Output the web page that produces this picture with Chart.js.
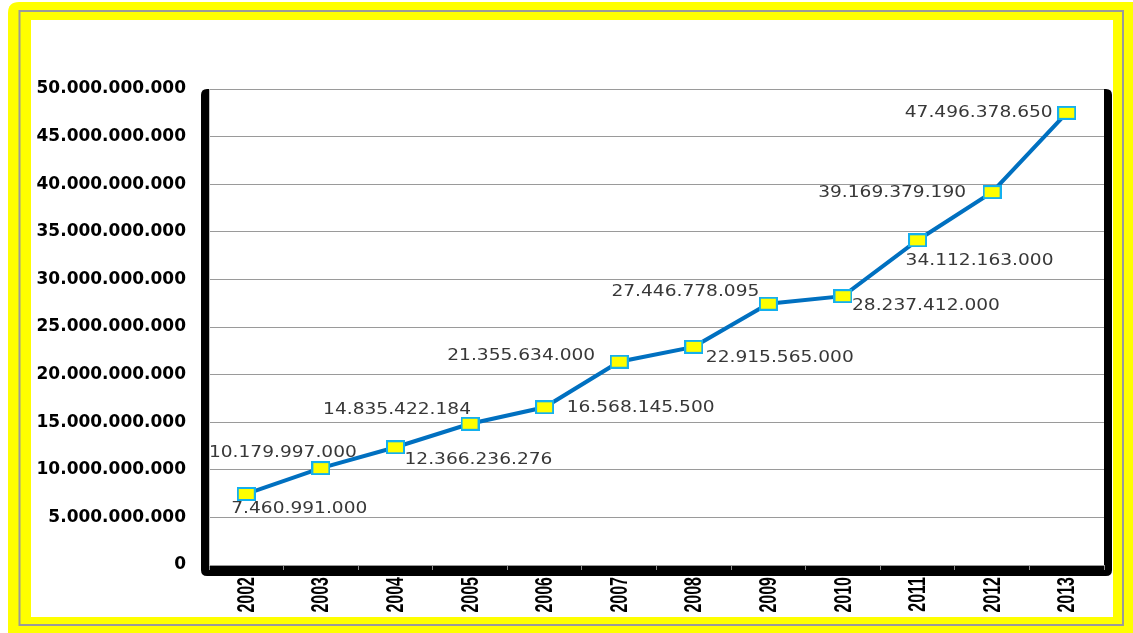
<!DOCTYPE html>
<html>
<head>
<meta charset="utf-8">
<script src="https://cdn.jsdelivr.net/npm/chart.js@4.4.1/dist/chart.umd.min.js"></script>
<style>
  html, body { margin: 0; padding: 0; background: #ffffff; }
  canvas { display: block; }
</style>
</head>
<body>
<canvas id="c" width="1133" height="633"></canvas>
<script>
// ---- data ----
const years = ['2002','2003','2004','2005','2006','2007','2008','2009','2010','2011','2012','2013'];
const values = [7460991000, 10179997000, 12366236276, 14835422184, 16568145500, 21355634000,
                22915565000, 27446778095, 28237412000, 34112163000, 39169379190, 47496378650];
const yTickMax = 50000000000;
const yTickStep = 5000000000;

// ---- label placement (offset of label centre from its point, px) ----
const labelOffsets = [[53,15],[-38,-15],[83,13],[-73,-14],[96,1],[-98,-6],
                      [86,11],[-83,-12],[83,10],[62,21],[-100,1],[-88,0]];

function fmt(v) {
  return String(Math.round(v)).replace(/\B(?=(\d{3})+(?!\d))/g, '.');
}

// marker image
const marker = document.createElement('canvas');
marker.width = 19; marker.height = 14;
(function(){
  const m = marker.getContext('2d');
  m.fillStyle = '#FFFF00';
  m.fillRect(0,0,19,14);
  m.strokeStyle = '#14B0EE';
  m.lineWidth = 2;
  m.strokeRect(1,1,17,12);
})();

function roundRect(ctx, x, y, w, h, r) {
  ctx.beginPath();
  ctx.moveTo(x + r, y);
  ctx.lineTo(x + w - r, y);
  ctx.quadraticCurveTo(x + w, y, x + w, y + r);
  ctx.lineTo(x + w, y + h - r);
  ctx.quadraticCurveTo(x + w, y + h, x + w - r, y + h);
  ctx.lineTo(x + r, y + h);
  ctx.quadraticCurveTo(x, y + h, x, y + h - r);
  ctx.lineTo(x, y + r);
  ctx.quadraticCurveTo(x, y, x + r, y);
  ctx.closePath();
}

const framePlugin = {
  id: 'frame',
  beforeDraw(chart) {
    const ctx = chart.ctx;
    const a = chart.chartArea;
    ctx.save();
    // page background + yellow frame
    ctx.fillStyle = '#ffffff';
    ctx.fillRect(0, 0, chart.width, chart.height);
    ctx.fillStyle = '#FFFF00';
    roundRect(ctx, 8, 2, 1145, 650, 11);
    ctx.fill();
    ctx.strokeStyle = '#9a9a9a';
    ctx.lineWidth = 2;
    ctx.strokeRect(19.5, 11, 1103.5, 614);
    ctx.fillStyle = '#ffffff';
    ctx.fillRect(31, 20, 1082, 597);
    // black shadow frame of plot
    ctx.fillStyle = '#000000';
    roundRect(ctx, a.left - 8, a.top, (a.right - a.left) + 16, (a.bottom - a.top) + 11, 6);
    ctx.fill();
    ctx.fillStyle = '#ffffff';
    ctx.fillRect(a.left, a.top, a.right - a.left, a.bottom - a.top);
    ctx.restore();
  },
  afterDraw(chart) {
    const ctx = chart.ctx;
    const xs = chart.scales.x;
    const a = chart.chartArea;
    ctx.save();
    // x labels (rotated, bold)
    ctx.fillStyle = '#000000';
    ctx.font = 'bold 16px "Liberation Sans"';
    ctx.textAlign = 'right';
    ctx.textBaseline = 'middle';
    years.forEach((lab, i) => {
      const x = xs.getPixelForTick(i);
      ctx.save();
      ctx.translate(x + 1, a.bottom + 12);
      ctx.rotate(-Math.PI / 2);
      ctx.scale(1, 1.5);
      ctx.fillText(lab, 0, 0);
      ctx.restore();
    });
    // data labels
    const meta = chart.getDatasetMeta(0);
    ctx.font = '15px "DejaVu Sans"';
    ctx.fillStyle = '#383838';
    ctx.textAlign = 'center';
    ctx.textBaseline = 'middle';
    meta.data.forEach((pt, i) => {
      const off = labelOffsets[i];
      ctx.save();
      ctx.translate(pt.x + off[0], pt.y + off[1]);
      ctx.scale(1.24, 1);
      ctx.fillText(fmt(values[i]), 0, 0);
      ctx.restore();
    });
    ctx.restore();
  }
};

new Chart(document.getElementById('c'), {
  type: 'line',
  data: {
    labels: years,
    datasets: [{
      data: values,
      borderColor: '#0070C0',
      borderWidth: 4,
      tension: 0,
      pointStyle: marker,
      pointRadius: 9,
      pointHoverRadius: 9,
      fill: false
    }]
  },
  options: {
    responsive: false,
    devicePixelRatio: 1,
    animation: false,
    layout: { padding: { left: 31, right: 29, top: 89, bottom: 63 } },
    plugins: { legend: { display: false }, tooltip: { enabled: false } },
    scales: {
      x: {
        offset: true,
        grid: { display: true, offset: true, drawOnChartArea: false, drawTicks: true, tickLength: 5, color: '#8c8c8c', lineWidth: 1 },
        border: { display: true, color: '#9a9a9a', width: 1 },
        ticks: { display: false }
      },
      y: {
        min: 0,
        max: yTickMax,
        afterFit(scale) { scale.width = 178; },
        grid: { color: '#9a9a9a', lineWidth: 1, drawTicks: false },
        border: { display: true, color: '#c0c0c0', width: 1 },
        ticks: {
          stepSize: yTickStep,
          padding: 23,
          color: '#000000',
          font: { family: '"DejaVu Sans"', size: 17, weight: 'bold' },
          callback: (v) => fmt(v)
        }
      }
    }
  },
  plugins: [framePlugin]
});
</script>
</body>
</html>
